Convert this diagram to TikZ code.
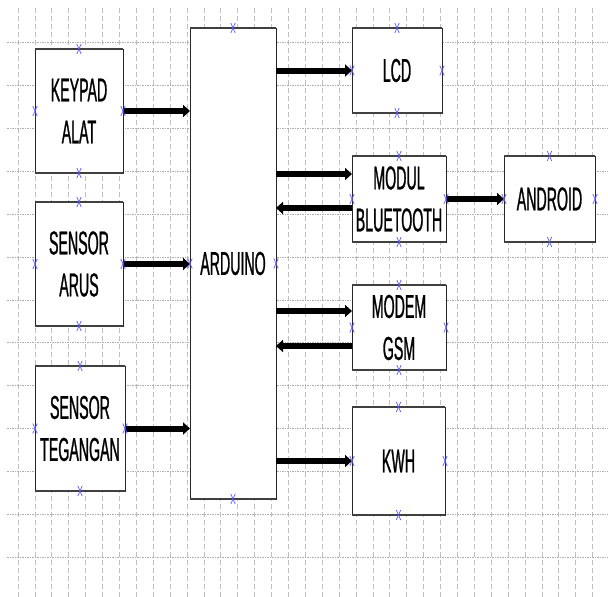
\documentclass[tikz,border=0pt]{standalone}
\usepackage{fontspec}
\newfontfamily\narrowfont[FakeStretch=0.43,FakeBold=0.8]{Liberation Sans}
\usetikzlibrary{arrows.meta}
\definecolor{xblue}{RGB}{90,90,255}
\begin{document}
\begin{tikzpicture}[x=1pt,y=-1pt,
  blk/.style={draw=black!85, line width=0.9pt, fill=white, inner sep=0pt, outer sep=0pt,
    align=center, font=\narrowfont\fontsize{33}{42}\selectfont},
  edge2/.style={line width=1.8pt, draw=black!75},
  arr/.style={line width=6pt, draw=black, -{Triangle[length=7pt,width=12pt]}},
  vgrid/.style={draw=black!25, line width=0.8pt, dash pattern=on 5pt off 3pt},
  hgrid/.style={draw=black!32, line width=0.9pt, dash pattern=on 1.5pt off 1pt},
  xm/.style={draw=xblue, line width=0.7pt}
]
\useasboundingbox[fill=white] (0,0) rectangle (608,597);
% grid
\foreach \i in {0,...,34} \draw[vgrid] ({18+16.9*\i},8) -- ({18+16.9*\i},597);
\foreach \j in {1,...,13} \draw[hgrid] (7,{42.85*\j}) -- (608,{42.85*\j});

% boxes
\node[blk, minimum width=88pt, minimum height=124pt] (keypad) at (79,111) {KEYPAD\\ALAT};
\node[blk, minimum width=88pt, minimum height=124pt] (arus) at (79,264) {SENSOR\\ARUS};
\node[blk, minimum width=90pt, minimum height=125pt] (teg) at (80,428.5) {SENSOR\\TEGANGAN};
\node[blk, minimum width=86pt, minimum height=471pt] (ard) at (233,263.5) {ARDUINO};
\node[blk, minimum width=90pt, minimum height=85pt] (lcd) at (397,70.5) {LCD};
\node[blk, minimum width=94pt, minimum height=86pt] (bt) at (399,199) {MODUL\\BLUETOOTH};
\node[blk, minimum width=91pt, minimum height=86pt] (andr) at (549.5,199) {ANDROID};
\node[blk, minimum width=94pt, minimum height=85pt] (gsm) at (399,327.5) {MODEM\\GSM};
\node[blk, minimum width=93pt, minimum height=108pt] (kwh) at (398.5,461) {KWH};

% thicker top and bottom edges
\foreach \n in {keypad,arus,teg,ard,lcd,bt,andr,gsm,kwh}{
  \draw[edge2] (\n.north west) -- (\n.north east);
  \draw[edge2] (\n.south west) -- (\n.south east);
}

% connectors
\draw[arr] (keypad.east) -- (keypad.east -| ard.west);
\draw[arr] (arus.east) -- (arus.east -| ard.west);
\draw[arr] (teg.east) -- (teg.east -| ard.west);
\draw[arr] (lcd.west -| ard.east) -- (lcd.west);
\draw[arr] ([yshift=25pt]bt.west -| ard.east) -- ([yshift=25pt]bt.west);
\draw[arr] ([yshift=-9pt]bt.west) -- ([yshift=-9pt]bt.west -| ard.east);
\draw[arr] (bt.east) -- (andr.west);
\draw[arr] ([yshift=16.5pt]gsm.west -| ard.east) -- ([yshift=16.5pt]gsm.west);
\draw[arr] ([yshift=-18.5pt]gsm.west) -- ([yshift=-18.5pt]gsm.west -| ard.east);
\draw[arr] (kwh.west -| ard.east) -- (kwh.west);

% blue connection marks
\foreach \n in {keypad,arus,teg,ard,lcd,bt,andr,gsm,kwh}{
  \foreach \a in {north,south,east,west}{
    \draw[xm] ([shift={(-2.2,-5)}]\n.\a) -- ++(4.4,10);
    \draw[xm] ([shift={(2.2,-5)}]\n.\a) -- ++(-4.4,10);
  }
}
\end{tikzpicture}
\end{document}
